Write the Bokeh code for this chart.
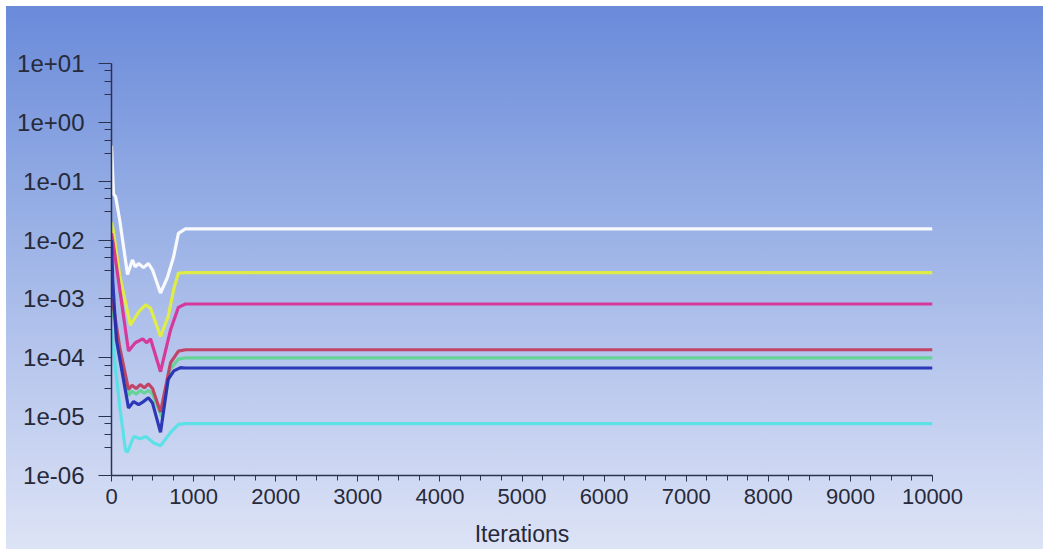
from bokeh.plotting import figure
from bokeh.models import FixedTicker, Range1d
from bokeh.embed import file_html
from bokeh.resources import INLINE

# Scaled residuals per equation (iteration, residual)
white_it = [0, 25, 50, 100, 195, 255, 290, 330, 390, 450, 500, 597, 680, 755, 815, 900, 1000, 10000]
white_res = [0.4, 0.06, 0.055, 0.022, 2.6e-3, 4.6e-3, 3.5e-3, 4.0e-3, 3.4e-3, 4.0e-3, 3.1e-3,
             1.26e-3, 2.3e-3, 5.1e-3, 1.3e-2, 1.55e-2, 1.55e-2, 1.55e-2]

yellow_it = [0, 20, 100, 230, 330, 415, 475, 597, 690, 760, 815, 900, 10000]
yellow_res = [0.02, 0.015, 2.5e-3, 3.6e-4, 6.0e-4, 7.9e-4, 7.0e-4, 2.3e-4, 5.0e-4, 1.5e-3,
              2.75e-3, 2.8e-3, 2.8e-3]

magenta_it = [0, 20, 134, 207, 290, 380, 430, 475, 597, 720, 815, 900, 10000]
magenta_res = [0.013, 0.009, 6.8e-4, 1.3e-4, 1.8e-4, 2.1e-4, 1.8e-4, 2.1e-4, 5.8e-5, 3.0e-4,
               7.2e-4, 8.2e-4, 8.2e-4]

red_it = [0, 20, 100, 207, 250, 300, 350, 400, 450, 500, 597, 720, 815, 900, 10000]
red_res = [1.0e-3, 8.0e-4, 1.5e-4, 2.9e-5, 3.4e-5, 3.0e-5, 3.5e-5, 3.1e-5, 3.6e-5, 3.0e-5,
           1.2e-5, 8.3e-5, 1.3e-4, 1.37e-4, 1.37e-4]

green_it = [0, 20, 100, 207, 250, 300, 350, 400, 450, 500, 610, 720, 815, 900, 10000]
green_res = [8.0e-4, 6.0e-4, 1.2e-4, 2.3e-5, 2.7e-5, 2.4e-5, 2.8e-5, 2.5e-5, 2.8e-5, 2.4e-5,
             1.0e-5, 6.5e-5, 9.5e-5, 1.0e-4, 1.0e-4]

blue_it = [0, 15, 60, 207, 270, 330, 390, 450, 500, 597, 690, 760, 840, 900, 10000]
blue_res = [1.0e-2, 2.0e-3, 2.0e-4, 1.4e-5, 1.8e-5, 1.6e-5, 1.8e-5, 2.1e-5, 1.7e-5, 5.4e-6,
            4.3e-5, 6.0e-5, 6.8e-5, 6.7e-5, 6.7e-5]

cyan_it = [0, 20, 100, 170, 195, 270, 350, 420, 510, 597, 720, 815, 900, 10000]
cyan_res = [3.0e-4, 1.5e-4, 1.5e-5, 2.7e-6, 2.5e-6, 4.6e-6, 4.2e-6, 4.6e-6, 3.6e-6, 3.2e-6,
            5.4e-6, 7.4e-6, 7.6e-6, 7.6e-6]

series = [
    (white_it, white_res, "#ffffff"),
    (yellow_it, yellow_res, "#e4f03a"),
    (magenta_it, magenta_res, "#d82e94"),
    (cyan_it, cyan_res, "#52e2e6"),
    (green_it, green_res, "#5fd58f"),
    (red_it, red_res, "#c23a5c"),
    (blue_it, blue_res, "#1f2bb2"),
]

# Axis ticks and labels
x_major = [0, 1000, 2000, 3000, 4000, 5000, 6000, 7000, 8000, 9000, 10000]
x_labels = ["0", "1000", "2000", "3000", "4000", "5000", "6000", "7000", "8000", "9000", "10000"]
y_major = [1e-06, 1e-05, 1e-04, 1e-03, 1e-02, 1e-01, 1e+00, 1e+01]
y_labels = ["1e-06", "1e-05", "1e-04", "1e-03", "1e-02", "1e-01", "1e+00", "1e+01"]

x_minor = [v for v in range(0, 10001, 250)]
y_minor = []
for dec in y_major[:-1]:
    for m in (3.0, 5.0, 7.5):
        y_minor.append(dec * m)

p = figure(
    width=1037, height=543,
    x_range=Range1d(0, 10000), y_range=Range1d(1e-06, 1e+01),
    y_axis_type="log",
    output_backend="svg", toolbar_location=None,
    min_border_left=105, min_border_right=111,
    min_border_top=57, min_border_bottom=73,
)
p.styles = {
    "margin-left": "6px",
    "margin-top": "6px",
    "background": "linear-gradient(to bottom, #6a8ada 0%, #93ace4 35%, #bccaee 70%, #dde3f6 100%)",
}
p.background_fill_color = None
p.border_fill_color = None
p.outline_line_color = None
p.xgrid.visible = False
p.ygrid.visible = False

for it, res, color in series:
    p.line(it, res, line_color=color, line_width=3.2, line_alpha=0.92)

axis_color = "#2c3350"
label_color = "#262a3a"

xa = p.xaxis[0]
xa.ticker = FixedTicker(ticks=x_major, minor_ticks=x_minor)
xa.major_label_overrides = {t: s for t, s in zip(x_major, x_labels)}
xa.axis_label = "Iterations"
xa.axis_label_text_font = "Liberation Sans"
xa.axis_label_text_font_style = "normal"
xa.axis_label_text_font_size = "23px"
xa.axis_label_text_color = label_color
xa.axis_label_standoff = 14
xa.major_label_text_font = "Liberation Sans"
xa.major_label_text_font_size = "22px"
xa.major_label_text_color = label_color
xa.major_label_standoff = 7
xa.axis_line_color = axis_color
xa.axis_line_width = 1.5
xa.major_tick_line_color = axis_color
xa.minor_tick_line_color = axis_color
xa.major_tick_out = 6
xa.major_tick_in = 0
xa.minor_tick_out = 5
xa.minor_tick_in = 0

ya = p.yaxis[0]
ya.ticker = FixedTicker(ticks=y_major, minor_ticks=y_minor)
ya.major_label_overrides = {t: s for t, s in zip(y_major, y_labels)}
ya.major_label_text_font = "Liberation Sans"
ya.major_label_text_font_size = "24px"
ya.major_label_text_color = label_color
ya.major_label_standoff = 14
ya.axis_line_color = axis_color
ya.axis_line_width = 1.5
ya.major_tick_line_color = axis_color
ya.minor_tick_line_color = axis_color
ya.major_tick_out = 13
ya.major_tick_in = 0
ya.minor_tick_out = 7
ya.minor_tick_in = 0

open("out.html", "w").write(file_html(p, INLINE))
